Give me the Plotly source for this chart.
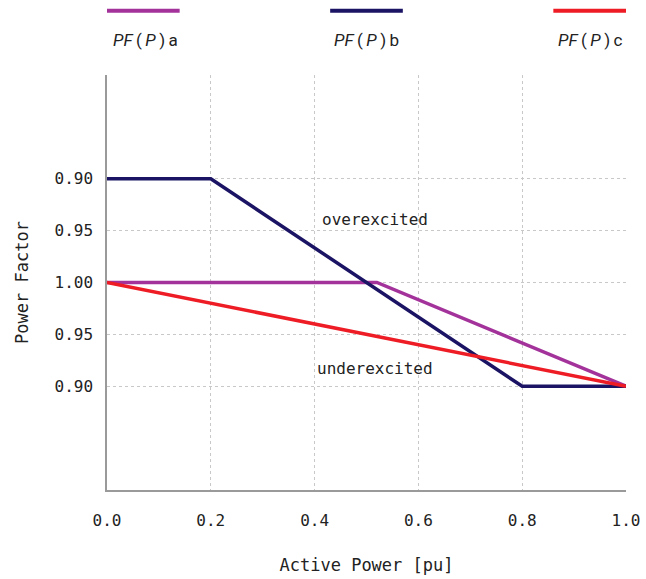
import plotly.graph_objects as go

# Data
p_a = [0.0, 0.52, 1.0]
q_a = [0.0, 0.0, -0.1]
p_b = [0.0, 0.2, 0.8, 1.0]
q_b = [0.1, 0.1, -0.1, -0.1]
p_c = [0.0, 1.0]
q_c = [0.0, -0.1]

series_names = ["<i>PF</i>\u2009(\u2009<i>P</i>\u2009)\u2009a",
                "<i>PF</i>\u2009(\u2009<i>P</i>\u2009)\u2009b",
                "<i>PF</i>\u2009(\u2009<i>P</i>\u2009)\u2009c"]
colors = ["#a3339b", "#1b1464", "#ee1c25"]

y_tickvals = [-0.2, -0.1, -0.05, 0.0, 0.05, 0.1, 0.2]
y_ticktext = ["", "0.90", "0.95", "1.00", "0.95", "0.90", ""]
x_tickvals = [0.0, 0.2, 0.4, 0.6, 0.8, 1.0]
x_ticktext = ["0.0", "0.2", "0.4", "0.6", "0.8", "1.0"]

mono = "DejaVu Sans Mono"

fig = go.Figure()
for xs, ys, name, col in [(p_a, q_a, series_names[0], colors[0]),
                          (p_b, q_b, series_names[1], colors[1]),
                          (p_c, q_c, series_names[2], colors[2])]:
    fig.add_trace(go.Scatter(x=xs, y=ys, mode="lines", name=name,
                             line=dict(color=col, width=3.5), showlegend=False))

# custom legend: line sample above label
legend_pos = [(0.0, 0.14, "left"), (0.43, 0.57, "center"), (0.86, 1.0, "right")]
for (x0, x1, al), name, col in zip(legend_pos, series_names, colors):
    fig.add_shape(type="line", xref="paper", yref="paper", x0=x0, x1=x1,
                  y0=1.155, y1=1.155, line=dict(color=col, width=4))
    xa = {"left": x0 + 0.008, "center": (x0 + x1) / 2, "right": x1 - 0.001}[al]
    fig.add_annotation(xref="paper", yref="paper", x=xa, y=1.085, text=name,
                       showarrow=False, xanchor=al, yanchor="middle",
                       font=dict(family="Roboto", size=17, color="#222"))

fig.add_annotation(x=0.516, y=0.061, text="overexcited", showarrow=False,
                   font=dict(family=mono, size=16, color="#222"))
fig.add_annotation(x=0.516, y=-0.083, text="underexcited", showarrow=False,
                   font=dict(family=mono, size=16, color="#222"))

fig.update_layout(
    width=646, height=579,
    margin=dict(l=107, r=20, t=75, b=89),
    plot_bgcolor="white", paper_bgcolor="white",
    font=dict(family=mono, size=16, color="#222"),
    xaxis=dict(range=[0, 1], tickvals=x_tickvals, ticktext=x_ticktext,
               automargin=False,
               showgrid=True, gridcolor="#c8c8c8", griddash="dot", gridwidth=1,
               showline=True, linecolor="#9a9a9a", linewidth=1.5,
               zeroline=False, ticks="", ticklabelstandoff=15,
               title=dict(text="Active Power [pu]", standoff=30,
                          font=dict(family=mono, size=17))),
    yaxis=dict(range=[-0.2, 0.2], tickvals=y_tickvals, ticktext=y_ticktext,
               automargin=False,
               showgrid=True, gridcolor="#c8c8c8", griddash="dot", gridwidth=1,
               showline=True, linecolor="#9a9a9a", linewidth=1.5,
               zeroline=False, ticks="", ticklabelstandoff=9,
               title=dict(text="Power Factor", standoff=22,
                          font=dict(family=mono, size=17))),
)

fig.write_html(
    "out.html",
    config={"displayModeBar": False},
    post_script="document.body.style.margin='0';document.body.style.overflow='hidden';",
)
